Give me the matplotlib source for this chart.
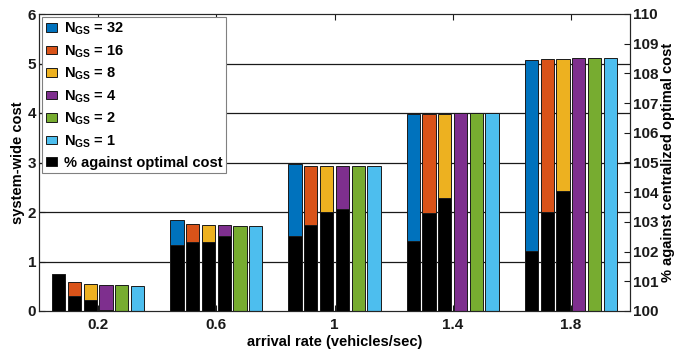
import matplotlib
matplotlib.use('Agg')
import matplotlib.pyplot as plt
import numpy as np
from matplotlib.patches import Patch

plt.rcParams['font.family'] = ['Liberation Sans', 'DejaVu Sans']
plt.rcParams['font.weight'] = 'bold'
plt.rcParams['mathtext.fontset'] = 'custom'
plt.rcParams['mathtext.rm'] = 'Liberation Sans:bold'
plt.rcParams['mathtext.it'] = 'Liberation Sans:bold'
plt.rcParams['mathtext.bf'] = 'Liberation Sans:bold'

# ---- data ----
rates = [0.2, 0.6, 1.0, 1.4, 1.8]
rate_labels = ['0.2', '0.6', '1', '1.4', '1.8']
ngs = ['32', '16', '8', '4', '2', '1']

# system-wide cost (left axis)
cost_n32 = [0.60, 1.84, 2.96, 3.97, 5.07]
cost_n16 = [0.58, 1.76, 2.92, 3.97, 5.09]
cost_n8 = [0.55, 1.74, 2.92, 3.97, 5.10]
cost_n4 = [0.53, 1.73, 2.92, 3.99, 5.12]
cost_n2 = [0.52, 1.72, 2.92, 3.99, 5.12]
cost_n1 = [0.51, 1.72, 2.92, 3.99, 5.12]

# % against centralized optimal cost (right axis)
pct_n32 = [101.26, 102.21, 102.51, 102.36, 102.03]
pct_n16 = [100.52, 102.33, 102.91, 103.31, 103.34]
pct_n8 = [100.38, 102.33, 103.35, 103.81, 104.05]
pct_n4 = [100.04, 102.54, 103.45, 100.0, 100.0]
pct_n2 = [100.0, 100.0, 100.0, 100.0, 100.0]
pct_n1 = [100.0, 100.0, 100.0, 100.0, 100.0]

costs = [cost_n32, cost_n16, cost_n8, cost_n4, cost_n2, cost_n1]
pcts = [pct_n32, pct_n16, pct_n8, pct_n4, pct_n2, pct_n1]
colors = ['#0072BD', '#D95319', '#EDB120', '#7E2F8E', '#77AC30', '#4DBEEE']

fig = plt.figure(figsize=(6.92, 3.53), dpi=100)
ax = fig.add_axes([39/692, 1-311/353, (630-39)/692, (311-14)/353])
ax2 = ax.twinx()

slot = 0.4 * 0.8 / 6
width = slot * 0.84
x = np.array(rates)
for i in range(6):
    ax.bar(x + (i - 2.5) * slot, costs[i], width, color=colors[i],
           edgecolor='#1a1a1a', linewidth=0.7, zorder=2)
    ax2.bar(x + (i - 2.5) * slot, np.array(pcts[i]) - 100, width, bottom=100,
            color='black', edgecolor='#1a1a1a', linewidth=0.7, zorder=2)

ax.set_xlim(0, 2)
ax.set_ylim(0, 6)
ax2.set_ylim(100, 110)
ax.set_xticks(rates)
ax.set_xticklabels(rate_labels)
ax.set_yticks(range(7))
ax2.set_yticks(range(100, 111))

ax.set_axisbelow(True)
for yv in range(1, 6):
    ax.axhline(yv, color='#1a1a1a', lw=0.9, zorder=0)

for a in (ax, ax2):
    a.tick_params(direction='in', length=4, width=0.8, labelsize=11, colors='#1a1a1a')
    for s in a.spines.values():
        s.set_color('#262626')
        s.set_linewidth(0.8)
ax.tick_params(axis='x', top=True, pad=5)
ax.tick_params(axis='y', pad=2)
ax2.tick_params(axis='y', pad=2)

ax.set_xlabel('arrival rate (vehicles/sec)', fontsize=10.5, fontweight='bold', labelpad=2)
ax.set_ylabel('system-wide cost', fontsize=10.5, fontweight='bold', labelpad=2)
ax2.set_ylabel('% against centralized optimal cost', fontsize=10.5, fontweight='bold', labelpad=2)

handles = [Patch(facecolor=c, edgecolor='#1a1a1a', linewidth=0.7) for c in colors]
handles.append(Patch(facecolor='black', edgecolor='#1a1a1a', linewidth=0.7))
labels = [r'$N_{GS}$ = ' + n for n in ngs] + ['% against optimal cost']
leg = ax2.legend(handles, labels, loc='upper left', bbox_to_anchor=(0.005, 0.99),
                 fontsize=10.5, frameon=True, fancybox=False, framealpha=1,
                 edgecolor='#808080', handlelength=0.75, handleheight=0.5,
                 handletextpad=0.5, labelspacing=0.42, borderpad=0.25,
                 borderaxespad=0.0)
leg.get_frame().set_linewidth(0.8)
leg.set_zorder(10)

fig.savefig('out.png', dpi=100)
